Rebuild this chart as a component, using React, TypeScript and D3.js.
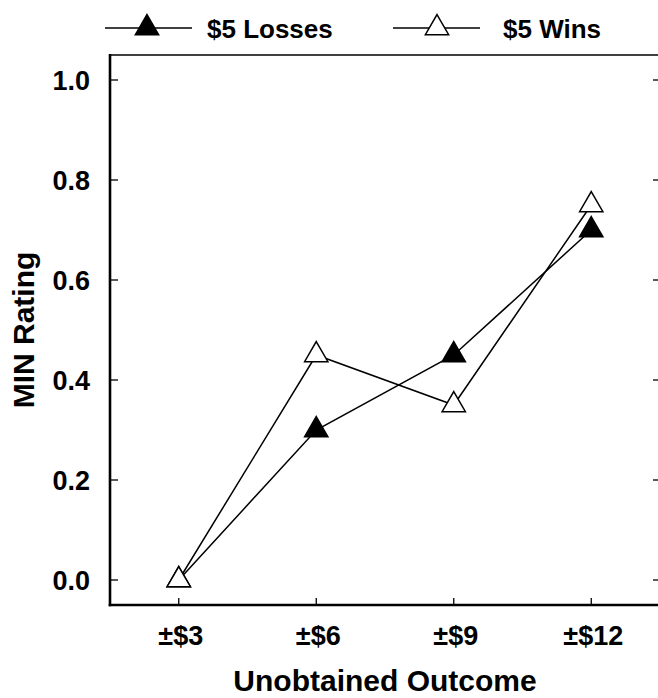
import * as d3 from 'd3';

const categories = ['±$3', '±$6', '±$9', '±$12'];
const lossValues = [0.0, 0.3, 0.45, 0.7];
const winValues = [0.0, 0.45, 0.35, 0.75];
const yTicks = [0, 0.2, 0.4, 0.6, 0.8, 1.0];

const W = 658;
const H = 698;
const left = 110;
const right = 660;
const top = 55;
const bottom = 605;
const font = '"Liberation Sans", Arial, Helvetica, sans-serif';

const App = () => {
  const x = d3.scaleLinear().domain([0.5, categories.length + 0.5]).range([left, right]);
  const y = d3.scaleLinear().domain([-0.05, 1.05]).range([bottom, top]);

  const line = d3
    .line<number>()
    .x((d, i) => x(i + 1))
    .y((d) => y(d));

  const tri = d3.symbol().type(d3.symbolTriangle).size(235)();

  const markers = (vals: number[], fill: string) =>
    vals.map((v, i) => (
      <path
        key={i}
        d={tri}
        transform={`translate(${x(i + 1)},${y(v)})`}
        fill={fill}
        stroke='#000'
        strokeWidth={1.5}
      />
    ));

  return (
    <svg
      width={W}
      height={H}
      style={{ position: 'absolute', left: 0, top: 0, background: '#fff' }}
      fontFamily={font}
      fontWeight='bold'
    >
      {/* legend */}
      <g>
        <line x1={105} x2={192} y1={28} y2={28} stroke='#000' strokeWidth={1.5} />
        <path d={tri} transform='translate(147,28)' fill='#000' stroke='#000' strokeWidth={1.5} />
        <text x={207} y={38} fontSize={26}>
          $5 Losses
        </text>
        <line x1={393} x2={480} y1={28} y2={28} stroke='#000' strokeWidth={1.5} />
        <path d={tri} transform='translate(437,28)' fill='#fff' stroke='#000' strokeWidth={1.5} />
        <text x={503} y={38} fontSize={26}>
          $5 Wins
        </text>
      </g>

      {/* frame */}
      <line x1={left} x2={right} y1={top} y2={top} stroke='#000' strokeWidth={1.7} />
      <line x1={right} x2={right} y1={top} y2={bottom} stroke='#000' strokeWidth={1.7} />
      <line x1={left} x2={left} y1={top - 1} y2={bottom + 1.3} stroke='#000' strokeWidth={2.6} />
      <line x1={left - 1.3} x2={right} y1={bottom} y2={bottom} stroke='#000' strokeWidth={2.6} />

      {/* y ticks */}
      {yTicks.map((t) => (
        <g key={t}>
          <line x1={left} x2={left + 8} y1={y(t)} y2={y(t)} stroke='#000' strokeWidth={1.3} />
          <line x1={right - 7} x2={right} y1={y(t)} y2={y(t)} stroke='#000' strokeWidth={1.3} />
          <text x={90} y={y(t)} dy='0.36em' textAnchor='end' fontSize={27}>
            {d3.format('.1f')(t)}
          </text>
        </g>
      ))}

      {/* x ticks */}
      {categories.map((c, i) => (
        <g key={c}>
          <line x1={x(i + 1)} x2={x(i + 1)} y1={bottom} y2={bottom - 7} stroke='#000' strokeWidth={1.3} />
          <text x={x(i + 1) + 2} y={645} textAnchor='middle' fontSize={27}>
            {c}
          </text>
        </g>
      ))}

      {/* axis titles */}
      <text x={(left + right) / 2} y={691} textAnchor='middle' fontSize={30}>
        Unobtained Outcome
      </text>
      <text
        transform={`translate(34,${(top + bottom) / 2}) rotate(-90)`}
        textAnchor='middle'
        fontSize={30}
      >
        MIN Rating
      </text>

      {/* series */}
      <path d={line(lossValues) ?? ''} fill='none' stroke='#000' strokeWidth={1.5} />
      <path d={line(winValues) ?? ''} fill='none' stroke='#000' strokeWidth={1.5} />
      {markers(lossValues, '#000')}
      {markers(winValues, '#fff')}
    </svg>
  );
};

export default App;
